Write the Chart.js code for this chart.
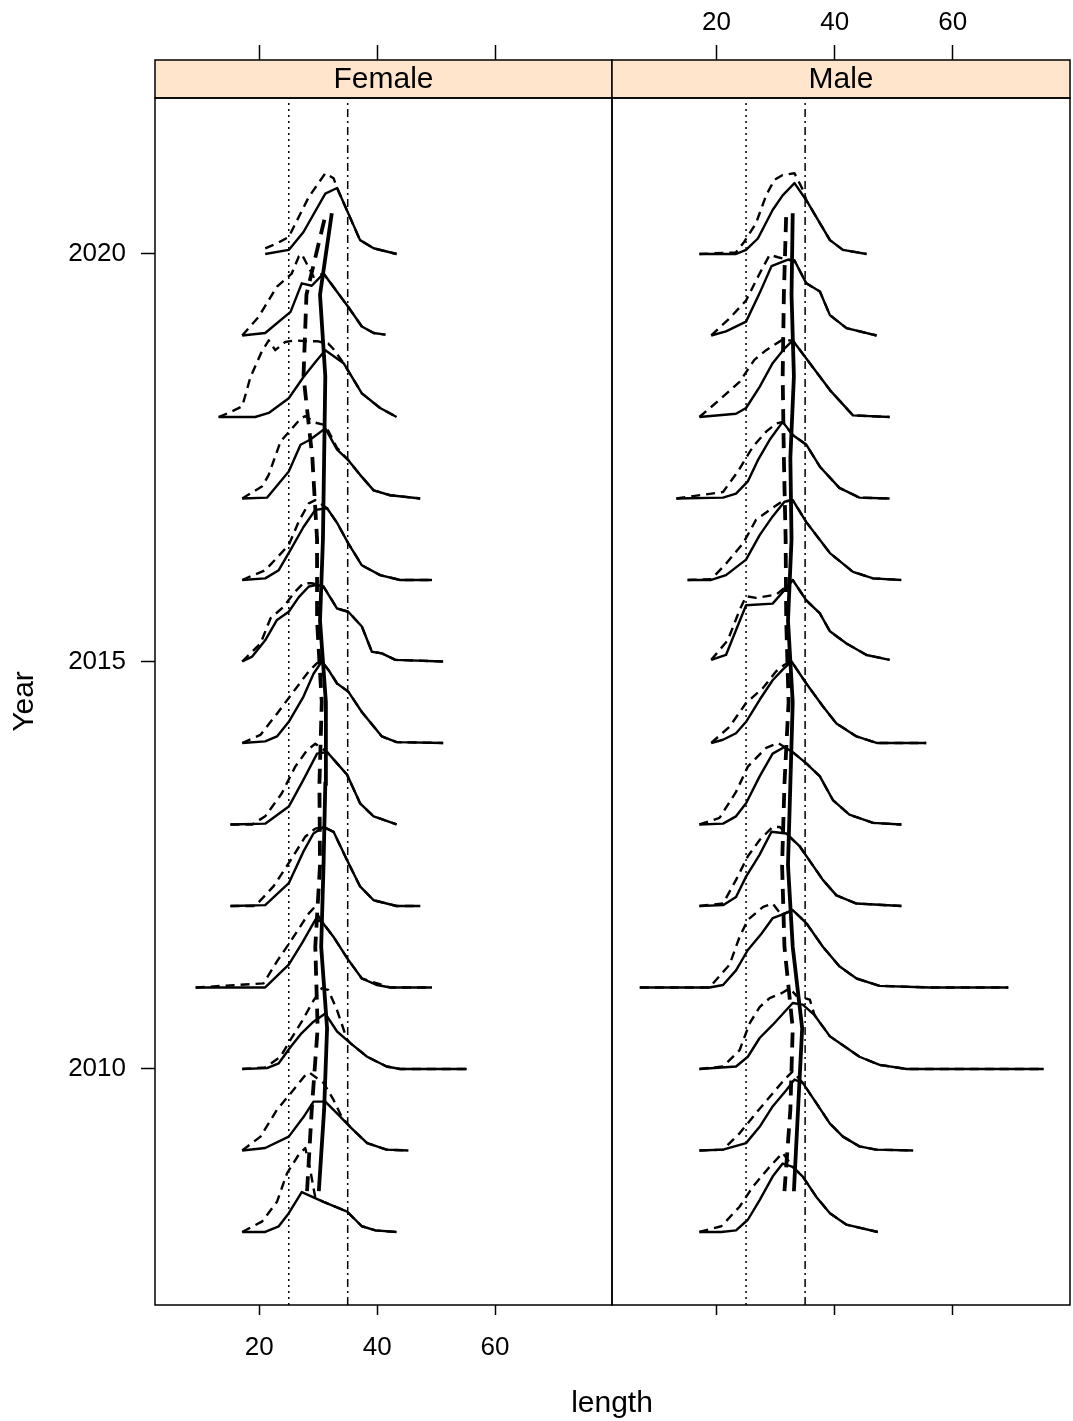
<!DOCTYPE html>
<html>
<head>
<meta charset="utf-8">
<script src="https://cdn.jsdelivr.net/npm/chart.js@4/dist/chart.umd.min.js"></script>
<style>
  body { margin: 0; background: #fff; }
  #wrap { position: relative; width: 1073px; height: 1421px; }
  canvas { position: absolute; top: 0; }
  #femaleCanvas { left: 0; }
  #maleCanvas { left: 610px; }
  #xTitle { position: absolute; left: 412px; width: 400px; top: 1384px; text-align: center;
            font: 30px "Liberation Sans", Arial, sans-serif; line-height: 36px; color: #000; }
</style>
</head>
<body>
<div id="wrap">
  <canvas id="femaleCanvas" width="614" height="1421"></canvas>
  <canvas id="maleCanvas" width="463" height="1421"></canvas>
  <div id="xTitle">length</div>
</div>
<script>
// years shown, bottom to top
const years = [2008, 2009, 2010, 2011, 2012, 2013, 2014, 2015, 2016, 2017, 2018, 2019, 2020];
const xTicks = [20, 40, 60];
const yTicks = [2010, 2015, 2020];
const refLines = [25, 35];

// each curve: [length, height above the year baseline], one entry per year
const femaleSolid = [
  [[17.1,0],[21.0,0],[23.3,0.07],[25.0,0.23],[27.2,0.49],[30.9,0.37],[34.9,0.25],[37.4,0.07],[39.7,0.02],[43.3,0]],
  [[17.1,0],[21.0,0.03],[25.0,0.17],[27.5,0.41],[29.2,0.60],[31.2,0.60],[33.4,0.44],[35.4,0.29],[38.3,0.09],[41.6,0.01],[45.3,0]],
  [[17.1,0],[21.3,0.01],[23.3,0.07],[25.3,0.27],[27.2,0.44],[29.2,0.58],[31.2,0.68],[33.2,0.46],[35.4,0.32],[38.3,0.15],[41.6,0.03],[43.9,0],[55.2,0]],
  [[9.2,0],[21.0,0],[25.0,0.28],[27.3,0.55],[29.5,0.83],[30.6,0.81],[32.6,0.62],[34.9,0.36],[37.4,0.11],[40.0,0.03],[42.2,0],[49.3,0]],
  [[15.1,0],[21.0,0.01],[25.0,0.28],[27.5,0.67],[29.2,0.89],[30.9,0.97],[32.6,0.91],[34.9,0.56],[37.1,0.24],[39.4,0.07],[43.3,0],[47.3,0]],
  [[15.1,0],[21.0,0.01],[25.0,0.22],[27.5,0.55],[29.8,0.87],[31.5,0.89],[33.2,0.75],[34.9,0.61],[37.1,0.26],[39.4,0.10],[43.3,0]],
  [[17.1,0],[21.0,0.02],[23.0,0.08],[25.0,0.26],[27.5,0.57],[29.2,0.85],[30.6,1.0],[31.7,0.90],[33.2,0.73],[35.1,0.63],[37.4,0.38],[40.8,0.08],[43.3,0.01],[51.2,0]],
  [[17.1,0],[18.8,0.06],[21.0,0.26],[23.0,0.51],[25.0,0.61],[26.7,0.79],[28.4,0.92],[29.8,0.94],[30.9,0.92],[33.2,0.65],[35.1,0.61],[37.4,0.43],[39.1,0.12],[40.8,0.10],[43.1,0.02],[51.2,0]],
  [[17.1,0],[21.0,0.02],[23.3,0.12],[25.3,0.37],[27.5,0.65],[29.5,0.86],[31.5,0.88],[33.2,0.70],[35.1,0.45],[37.4,0.18],[40.5,0.06],[43.9,0],[49.3,0]],
  [[17.1,0],[21.3,0.01],[25.0,0.33],[27.0,0.66],[28.6,0.72],[31.2,0.86],[33.2,0.60],[35.1,0.47],[37.1,0.29],[39.4,0.10],[42.2,0.04],[47.3,0]],
  [[13.1,0],[19.3,0],[21.6,0.05],[25.0,0.23],[27.5,0.49],[29.8,0.70],[31.2,0.82],[34.3,0.66],[37.4,0.29],[40.5,0.11],[43.3,0]],
  [[17.1,0],[21.0,0.03],[25.3,0.29],[27.2,0.64],[28.9,0.61],[30.9,0.76],[35.1,0.35],[37.4,0.11],[39.4,0.03],[41.4,0.01]],
  [[21.0,0],[25.0,0.05],[27.5,0.27],[31.2,0.74],[33.2,0.81],[37.1,0.17],[39.4,0.07],[43.3,0]]
];
const femaleDashed = [
  [[17.1,0],[20.5,0.13],[23.0,0.37],[24.7,0.72],[26.7,0.95],[27.8,1.03],[28.6,0.78],[29.5,0.42],[30.9,0.37],[34.9,0.25],[37.4,0.07],[39.7,0.02],[43.3,0]],
  [[17.1,0],[20.2,0.17],[23.0,0.50],[25.3,0.70],[28.1,0.95],[28.6,0.95],[30.9,0.83],[32.6,0.62],[34.0,0.41],[35.4,0.29],[38.3,0.09],[41.6,0.01],[45.3,0]],
  [[17.1,0],[21.0,0.02],[23.6,0.15],[25.3,0.36],[27.2,0.58],[29.2,0.84],[30.6,0.99],[31.7,0.97],[33.2,0.72],[34.9,0.36],[35.4,0.32],[38.3,0.15],[41.6,0.03],[43.9,0],[55.2,0]],
  [[9.2,0],[20.7,0.05],[23.0,0.32],[25.8,0.62],[28.4,0.91],[29.2,0.97],[30.6,0.81],[32.6,0.62],[34.9,0.36],[37.4,0.11],[42.2,0],[49.3,0]],
  [[15.1,0],[19.3,0],[22.4,0.24],[25.3,0.56],[27.8,0.85],[29.5,0.95],[30.9,0.97],[32.6,0.91],[34.9,0.56],[37.1,0.24],[39.4,0.07],[43.3,0],[47.3,0]],
  [[15.1,0],[18.8,0],[21.0,0.10],[23.8,0.38],[26.1,0.71],[28.1,0.91],[29.5,0.99],[31.5,0.89],[33.2,0.75],[34.9,0.61],[37.1,0.26],[39.4,0.10],[43.3,0]],
  [[17.1,0],[20.2,0.10],[23.0,0.36],[25.8,0.63],[28.4,0.88],[29.8,0.98],[30.6,1.0],[31.7,0.90],[33.2,0.73],[35.1,0.63],[37.4,0.38],[40.8,0.08],[43.3,0.01],[51.2,0]],
  [[17.1,0],[20.2,0.22],[21.9,0.53],[24.1,0.67],[26.1,0.86],[27.5,0.96],[28.9,0.96],[30.9,0.92],[33.2,0.65],[35.1,0.61],[37.4,0.43],[39.1,0.12],[40.8,0.10],[43.1,0.02],[51.2,0]],
  [[17.1,0],[21.0,0.12],[22.7,0.25],[25.0,0.43],[26.7,0.72],[28.4,0.94],[29.5,0.98],[31.5,0.88],[33.2,0.70],[35.1,0.45],[37.4,0.18],[40.5,0.06],[43.9,0],[49.3,0]],
  [[17.1,0],[20.5,0.15],[21.6,0.29],[23.6,0.70],[25.3,0.84],[27.0,0.98],[27.8,1.01],[29.5,0.93],[31.2,0.90],[33.2,0.62],[35.1,0.47],[37.1,0.29],[39.4,0.10],[42.2,0.04],[47.3,0]],
  [[13.1,0],[14.8,0.05],[17.1,0.13],[18.5,0.49],[20.4,0.80],[21.6,0.94],[22.7,0.82],[24.4,0.92],[26.0,0.94],[28.1,0.93],[29.8,0.93],[31.7,0.90],[32.5,0.84],[34.3,0.66],[37.4,0.29],[40.5,0.11],[43.3,0]],
  [[17.1,0],[19.9,0.23],[23.0,0.60],[25.5,0.76],[26.7,0.97],[27.2,1.0],[29.2,0.72],[30.9,0.76],[35.1,0.35],[37.4,0.11],[39.4,0.03],[41.4,0.01]],
  [[21.0,0.07],[23.0,0.13],[25.0,0.21],[28.4,0.70],[31.2,0.99],[32.6,0.93],[33.2,0.81],[37.1,0.17],[39.4,0.07],[43.3,0]]
];
const maleSolid = [
  [[17.1,0],[20.8,0],[23.3,0.02],[25.3,0.15],[27.3,0.39],[29.5,0.68],[31.2,0.84],[32.9,0.80],[34.6,0.68],[36.9,0.43],[39.2,0.23],[42.0,0.09],[47.3,0]],
  [[17.1,0],[21.1,0.01],[25.0,0.09],[27.3,0.29],[29.5,0.54],[31.8,0.74],[33.2,0.87],[34.6,0.83],[36.9,0.58],[39.2,0.33],[41.4,0.17],[44.2,0.05],[47.0,0.01],[53.3,0]],
  [[17.1,0],[23.3,0.03],[25.3,0.15],[27.3,0.38],[29.5,0.54],[32.9,0.81],[34.6,0.79],[36.6,0.66],[39.2,0.40],[41.4,0.29],[44.2,0.15],[47.6,0.05],[52.2,0],[75.4,0]],
  [[7.0,0],[18.8,0],[21.1,0.03],[23.3,0.21],[25.3,0.46],[27.6,0.66],[29.5,0.85],[31.0,0.89],[32.9,0.95],[35.2,0.79],[38.0,0.50],[40.8,0.26],[43.7,0.11],[47.6,0.02],[56.1,0],[69.4,0]],
  [[17.1,0],[21.1,0.01],[23.3,0.11],[25.0,0.36],[27.3,0.63],[29.3,0.91],[31.8,0.89],[34.1,0.73],[36.1,0.52],[38.0,0.32],[40.3,0.13],[43.7,0.03],[51.3,0]],
  [[17.1,0],[21.1,0.01],[23.3,0.10],[25.0,0.26],[27.3,0.59],[29.5,0.87],[31.5,0.95],[33.2,0.87],[35.2,0.75],[37.5,0.59],[39.7,0.30],[42.5,0.12],[46.5,0.02],[51.3,0]],
  [[19.1,0],[21.1,0.04],[23.3,0.12],[25.0,0.26],[27.3,0.53],[29.5,0.77],[31.2,0.90],[32.7,1.0],[35.2,0.73],[38.0,0.45],[40.3,0.24],[43.7,0.08],[47.1,0],[55.5,0]],
  [[19.1,0.02],[21.6,0.08],[25.0,0.69],[29.5,0.71],[31.8,0.90],[32.9,1.0],[35.2,0.75],[37.5,0.59],[39.2,0.37],[42.0,0.22],[45.4,0.08],[49.3,0.02]],
  [[15.1,0],[19.1,0],[21.6,0.06],[25.0,0.25],[27.3,0.55],[29.5,0.78],[31.5,0.96],[32.9,0.98],[35.2,0.71],[39.2,0.33],[43.1,0.10],[46.5,0.02],[51.3,0]],
  [[13.2,0],[21.1,0.01],[23.3,0.06],[25.3,0.21],[27.0,0.47],[29.0,0.72],[31.2,0.94],[32.9,0.78],[35.2,0.66],[37.5,0.39],[40.8,0.13],[44.2,0.01],[49.3,0]],
  [[17.1,0],[23.3,0.04],[25.0,0.11],[27.3,0.37],[29.5,0.66],[31.5,0.84],[32.9,0.94],[35.8,0.66],[39.2,0.33],[43.1,0.02],[49.3,0]],
  [[19.1,0],[21.6,0.05],[25.0,0.17],[27.3,0.52],[29.3,0.85],[32.1,0.93],[33.2,0.92],[35.2,0.64],[37.5,0.54],[39.2,0.25],[42.0,0.09],[47.1,0]],
  [[17.1,0],[23.3,0],[25.0,0.05],[27.0,0.19],[29.5,0.54],[31.2,0.72],[33.2,0.87],[35.2,0.66],[37.5,0.38],[39.2,0.17],[41.4,0.05],[45.4,0]]
];
const maleDashed = [
  [[17.1,0],[20.8,0.07],[23.9,0.31],[26.2,0.56],[29.0,0.80],[31.2,0.97],[32.9,0.80],[34.6,0.68],[36.9,0.43],[39.2,0.23],[42.0,0.09],[47.3,0]],
  [[17.1,0],[21.1,0.01],[23.9,0.21],[26.7,0.46],[29.5,0.70],[31.5,0.87],[32.9,0.97],[34.6,0.83],[36.9,0.58],[39.2,0.33],[41.4,0.17],[44.2,0.05],[47.0,0.01],[53.3,0]],
  [[17.1,0],[21.1,0.03],[23.9,0.23],[25.6,0.56],[27.3,0.76],[29.0,0.87],[31.0,0.93],[32.4,0.99],[33.5,0.90],[35.8,0.85],[36.6,0.66],[39.2,0.40],[41.4,0.29],[44.2,0.15],[47.6,0.05],[52.2,0],[75.4,0]],
  [[7.0,0],[18.8,0],[22.2,0.28],[23.9,0.62],[25.3,0.83],[27.9,0.99],[29.5,1.03],[31.0,0.89],[32.9,0.95],[35.2,0.79],[38.0,0.50],[40.8,0.26],[43.7,0.11],[47.6,0.02],[56.1,0],[69.4,0]],
  [[17.1,0],[21.1,0.03],[23.3,0.32],[25.3,0.61],[27.3,0.81],[29.5,0.97],[30.7,0.97],[31.8,0.89],[34.1,0.73],[36.1,0.52],[38.0,0.32],[40.3,0.13],[43.7,0.03],[51.3,0]],
  [[17.1,0],[20.5,0.08],[23.3,0.40],[25.3,0.71],[28.4,0.94],[30.4,1.0],[31.5,0.95],[33.2,0.87],[35.2,0.75],[37.5,0.59],[39.7,0.30],[42.5,0.12],[46.5,0.02],[51.3,0]],
  [[19.1,0],[22.2,0.20],[25.0,0.49],[27.8,0.67],[30.1,0.88],[31.5,0.96],[32.7,1.0],[35.2,0.73],[38.0,0.45],[40.3,0.24],[43.7,0.08],[47.1,0],[55.5,0]],
  [[19.1,0.02],[21.9,0.26],[23.9,0.63],[25.0,0.80],[26.7,0.78],[30.1,0.82],[31.8,0.92],[32.9,1.0],[35.2,0.75],[37.5,0.59],[39.2,0.37],[42.0,0.22],[45.4,0.08],[49.3,0.02]],
  [[15.1,0],[19.1,0.01],[21.6,0.20],[24.5,0.45],[26.7,0.74],[29.0,0.86],[31.0,0.96],[32.9,0.98],[35.2,0.71],[39.2,0.33],[43.1,0.10],[46.5,0.02],[51.3,0]],
  [[13.2,0],[21.1,0.08],[23.6,0.33],[26.2,0.64],[28.4,0.82],[30.1,0.92],[31.2,0.94],[32.9,0.78],[35.2,0.66],[37.5,0.39],[40.8,0.13],[44.2,0.01],[49.3,0]],
  [[17.1,0],[20.5,0.21],[23.9,0.43],[26.4,0.70],[28.4,0.82],[31.0,0.94],[32.9,0.94],[35.8,0.66],[39.2,0.33],[43.1,0.02],[49.3,0]],
  [[19.1,0],[22.2,0.21],[25.0,0.43],[27.3,0.76],[29.0,0.99],[30.4,0.96],[32.1,0.93],[33.2,0.92],[35.2,0.64],[37.5,0.54],[39.2,0.25],[42.0,0.09],[47.1,0]],
  [[17.1,0],[23.3,0.02],[24.7,0.15],[26.7,0.38],[28.4,0.72],[29.8,0.91],[31.2,0.97],[33.2,0.99],[34.6,0.79],[35.2,0.66],[37.5,0.38],[39.2,0.17],[41.4,0.05],[45.4,0]]
];

// mean lengths, plotted half a year above each baseline
const femaleMeanSolid = [30.1, 31.0, 31.5, 30.5, 30.9, 31.2, 31.3, 30.3, 30.8, 31.0, 31.2, 30.3, 32.3];
const femaleMeanDashed = [28.1, 28.9, 29.9, 29.5, 30.3, 30.2, 30.6, 29.8, 29.8, 29.0, 27.5, 28.0, 31.3];
const maleMeanSolid = [33.1, 33.8, 34.5, 32.9, 32.1, 32.5, 32.9, 32.1, 32.7, 32.5, 33.1, 32.7, 32.9];
const maleMeanDashed = [31.5, 32.5, 32.9, 31.5, 31.1, 31.5, 32.2, 31.8, 31.7, 31.4, 31.2, 31.4, 31.8];

const xMin = 2.3, xMax = 79.85;
const yMin = 2007.104, yMax = 2021.914;

Chart.defaults.font.family = '"Liberation Sans", Arial, sans-serif';
Chart.defaults.color = '#000';

const panelFrame = {
  id: 'panelFrame',
  afterDraw(chart, args, opts) {
    const { ctx, chartArea } = chart;
    const w = chartArea.right - chartArea.left;
    ctx.save();
    ctx.fillStyle = '#ffe5cc';
    ctx.fillRect(chartArea.left, 60, w, 38);
    ctx.strokeStyle = '#000';
    ctx.lineWidth = 1.5;
    ctx.strokeRect(chartArea.left, 60, w, 38);
    ctx.strokeRect(chartArea.left, chartArea.top, w, chartArea.bottom - chartArea.top);
    ctx.fillStyle = '#000';
    ctx.font = '30px "Liberation Sans", Arial, sans-serif';
    ctx.textAlign = 'center';
    ctx.textBaseline = 'middle';
    ctx.fillText(opts.label, chartArea.left + w / 2, 80);
    ctx.restore();
  }
};

function curve(year, pts, dashed) {
  return {
    data: pts.map(p => ({ x: p[0], y: year + p[1] })),
    borderColor: '#000',
    borderWidth: 2.4,
    borderDash: dashed ? [9, 6] : [],
    borderJoinStyle: 'round',
    pointRadius: 0,
    tension: 0
  };
}

function meanLine(means, dashed) {
  return {
    data: years.map((yr, i) => ({ x: means[i], y: yr + 0.5 })),
    borderColor: '#000',
    borderWidth: 3.8,
    borderDash: dashed ? [15, 9] : [],
    pointRadius: 0,
    tension: 0
  };
}

function refLine(x, dash) {
  return {
    data: [{ x: x, y: yMin }, { x: x, y: yMax }],
    borderColor: '#000',
    borderWidth: 1.5,
    borderDash: dash,
    pointRadius: 0
  };
}

function drawPanel(canvasId, label, solid, dashed, meanSolid, meanDashed, first) {
  const datasets = [];
  datasets.push(meanLine(meanSolid, false));
  datasets.push(meanLine(meanDashed, true));
  years.forEach((yr, i) => {
    datasets.push(curve(yr, solid[i], false));
    datasets.push(curve(yr, dashed[i], true));
  });
  datasets.push(refLine(refLines[0], [2, 4]));
  datasets.push(refLine(refLines[1], [8, 4, 2, 4]));

  const setTicks = vals => s => { s.ticks = vals.map(v => ({ value: v })); };

  new Chart(document.getElementById(canvasId).getContext('2d'), {
    type: 'line',
    data: { datasets: datasets },
    options: {
      responsive: false,
      animation: false,
      layout: { padding: first ? { left: 0, right: 2, top: 0, bottom: 0 } : { left: 2, right: 3, top: 0, bottom: 0 } },
      plugins: { legend: { display: false }, tooltip: { enabled: false }, panelFrame: { label: label } },
      scales: {
        x: {
          type: 'linear', position: 'bottom', min: xMin, max: xMax,
          afterBuildTicks: setTicks(xTicks),
          afterFit: s => { s.height = 116; },
          border: { display: false },
          grid: { drawOnChartArea: false, tickLength: 10, tickColor: '#000', tickWidth: 1.5 },
          ticks: { display: first, font: { size: 26 }, padding: 17, maxRotation: 0, callback: v => String(v) }
        },
        xt: {
          type: 'linear', position: 'top', min: xMin, max: xMax,
          afterBuildTicks: setTicks(xTicks),
          afterFit: s => { s.height = 98; },
          border: { display: false },
          grid: { drawOnChartArea: false, tickLength: 53, tickColor: '#000', tickWidth: 1.5 },
          ticks: { display: !first, font: { size: 26 }, padding: 7, maxRotation: 0, callback: v => String(v) }
        },
        y: {
          type: 'linear', position: 'left', min: yMin, max: yMax, display: first,
          afterBuildTicks: setTicks(yTicks),
          afterFit: s => { s.width = first ? 155 : 0; },
          border: { display: false },
          grid: { drawOnChartArea: false, tickLength: 14, tickColor: '#000', tickWidth: 1.5 },
          ticks: { font: { size: 26 }, padding: 15, callback: v => String(v) },
          title: { display: true, text: 'Year', font: { size: 30 }, padding: { top: 7, bottom: 0 } }
        }
      }
    },
    plugins: [panelFrame]
  });
}

drawPanel('femaleCanvas', 'Female', femaleSolid, femaleDashed, femaleMeanSolid, femaleMeanDashed, true);
drawPanel('maleCanvas', 'Male', maleSolid, maleDashed, maleMeanSolid, maleMeanDashed, false);
</script>
</body>
</html>
